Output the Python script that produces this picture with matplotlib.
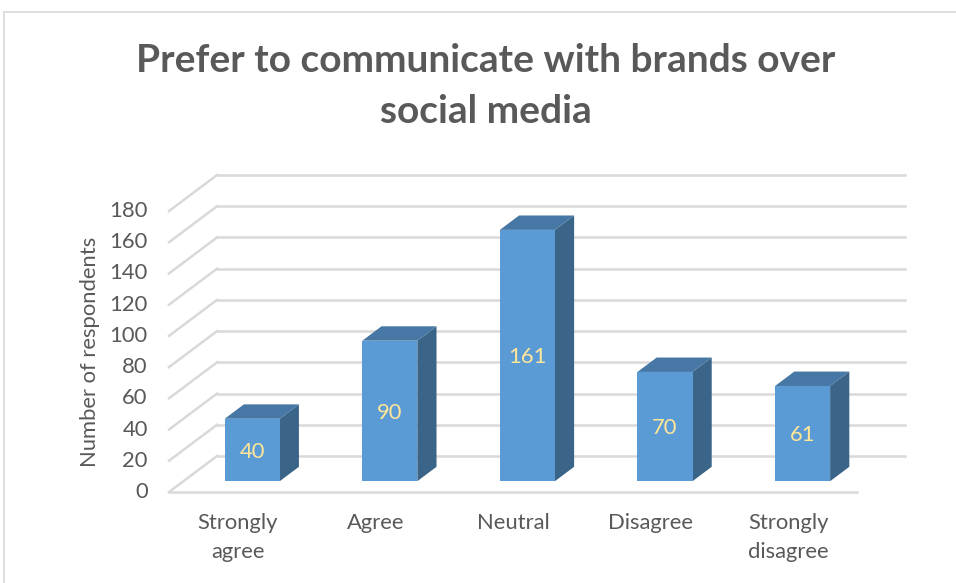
import matplotlib
matplotlib.use("Agg")
import matplotlib.pyplot as plt
from matplotlib.patches import Polygon
from matplotlib.lines import Line2D

# Survey data
categories = ["Strongly\nagree", "Agree", "Neutral", "Disagree", "Strongly\ndisagree"]
counts = [40, 90, 161, 70, 61]
y_ticks = [0, 20, 40, 60, 80, 100, 120, 140, 160, 180]

title_lines = ["Prefer to communicate with brands over", "social media"]
y_label = "Number of respondents"

# Styling
FRONT = "#5B9BD5"
TOP = "#4677A5"
SIDE = "#3A6589"
GRID = "#D9D9D9"
TEXT = "#595959"
VALUE = "#FFE699"
FONT = "Lato"
FS = 15.8

W, H, DPI = 956, 583, 100
fig = plt.figure(figsize=(W / DPI, H / DPI), dpi=DPI)
fig.patch.set_facecolor("white")

# Plot coordinates: x in category slots, y in respondents
px_per_cat = 137.6
px_per_unit = 1.561
x0_px, y0_px = 169, H - 492
ax = fig.add_axes([0, 0, 1, 1])
ax.set_xlim(-x0_px / px_per_cat, (W - x0_px) / px_per_cat)
ax.set_ylim(-y0_px / px_per_unit, (H - y0_px) / px_per_unit)
ax.axis("off")

# Oblique depth of the 3-D box
DX = 48 / px_per_cat
DY = 36 / px_per_unit
n = len(categories)

# Back wall gridlines and left wall diagonals
for t in y_ticks:
    ax.add_line(Line2D([DX, n + DX], [t + DY, t + DY], color=GRID, lw=1.8, zorder=1))
    ax.add_line(Line2D([0, DX], [t, t + DY], color=GRID, lw=1.8, zorder=1))
# Front floor edge
ax.add_line(Line2D([0, n], [0, 0], color=GRID, lw=1.8, zorder=1))

# Y tick labels
for t in y_ticks:
    ax.text(-0.155, t, str(t), ha="right", va="center", fontsize=FS,
            color=TEXT, family=FONT, zorder=5)

# 3-D bars
bw = 0.4
d0, d1 = 0.3, 0.7
for i, v in enumerate(counts):
    xl = i + 0.5 - bw / 2 + d0 * DX
    xr = xl + bw
    yb = d0 * DY
    yt = v + d0 * DY
    ddx = (d1 - d0) * DX
    ddy = (d1 - d0) * DY
    side = Polygon([(xr, yb), (xr + ddx, yb + ddy), (xr + ddx, yt + ddy), (xr, yt)],
                   closed=True, facecolor=SIDE, edgecolor="none", zorder=3)
    top = Polygon([(xl, yt), (xr, yt), (xr + ddx, yt + ddy), (xl + ddx, yt + ddy)],
                  closed=True, facecolor=TOP, edgecolor="none", zorder=3)
    front = Polygon([(xl, yb), (xr, yb), (xr, yt), (xl, yt)],
                    closed=True, facecolor=FRONT, edgecolor="none", zorder=4)
    for p in (side, top, front):
        ax.add_patch(p)
    ax.text((xl + xr) / 2, (yb + yt) / 2 - 1, str(v), ha="center", va="center",
            fontsize=FS, color=VALUE, family=FONT, zorder=6)

# Category labels
for i, c in enumerate(categories):
    ax.text(i + 0.5, -13.5, c, ha="center", va="top", fontsize=FS, color=TEXT,
            family=FONT, linespacing=1.55, zorder=5)

# Axis title
fig.text(90 / W, 1 - 352 / H, y_label, rotation=90, ha="center", va="center",
         fontsize=FS, color=TEXT, family=FONT)

# Chart title, one baseline per line
for line, base in zip(title_lines, [72, 123]):
    fig.text(486 / W, 1 - base / H, line, ha="center", va="baseline", fontsize=28,
             fontweight="bold", color=TEXT, family=FONT)

# Chart area border
fig.add_artist(Line2D([4 / W, 4 / W], [0, 1 - 12 / H], color=GRID, lw=1.2,
                      transform=fig.transFigure))
fig.add_artist(Line2D([4 / W, 1], [1 - 12 / H, 1 - 12 / H], color=GRID, lw=1.2,
                      transform=fig.transFigure))

fig.savefig("out.png", dpi=DPI)
